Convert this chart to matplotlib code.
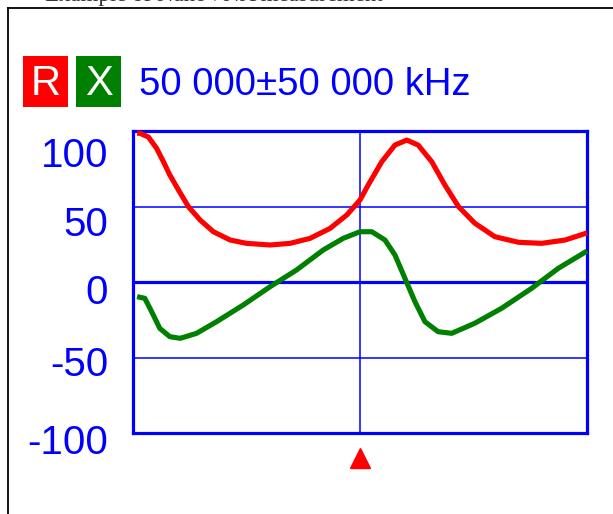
import numpy as np
import matplotlib.pyplot as plt
import matplotlib.transforms as mtransforms
from matplotlib.patches import Rectangle
from matplotlib.lines import Line2D

# data (frequency in MHz, value in ohms)
freq_r = [0.9, 1.5, 3.4, 5.2, 6.7, 8.1, 10, 12.2, 14.8, 17.7, 21.4, 25, 30.2, 34.6,
          39, 43.4, 47.1, 50, 51.8, 54.8, 57.7, 60.3, 62.8, 65.8, 68.7, 71.7,
          75.3, 79.7, 84.9, 90, 95.2, 100]
r_vals = [98.5, 98.5, 96, 88.5, 79.7, 70.9, 61, 49.9, 41, 33.3, 27.8, 25.6, 24.5, 25.6,
          28.9, 35.5, 44.4, 54.3, 64.2, 79.7, 90.7, 94, 90.7, 79.7, 64.2, 49.9,
          38.9, 30, 26.3, 25.6, 27.8, 32.5]

freq_x = [0.9, 2.6, 4.1, 5.9, 8.1, 10.4, 14, 18.4, 24.3, 30.2, 36, 41.9, 46.3, 50,
          52.6, 55.5, 57.7, 59.9, 62.1, 64.3, 67.2, 70.2, 75.3, 81.2, 87.8, 93.7, 100]
x_vals = [-9.7, -10.8, -19.6, -30.7, -36.2, -37.3, -34, -26.3, -15.2, -3.1, 7.9, 21.2, 28.9, 33.3,
          33.3, 27.8, 17.9, 2.4, -13, -26.3, -32.9, -34, -27.3, -17.4, -4.2, 9.1, 20.5]

y_ticks = [100, 50, 0, -50, -100]
y_labels = ['100', '50', '0', '-50', '-100']
marker_freq = 50
header = '50 000\u00b150 000 kHz'

BLUE = '#0000ff'
RED = '#ff0000'
GREEN = '#008000'
FONT = 'Liberation Sans'

fig = plt.figure(figsize=(6.13, 5.14), dpi=100)
W, H = 613, 514

def fx(px):
    return px / W

def fy(py):
    return 1 - py / H

# outer frame and the caption above it (cut by the top edge, as on the page)
fig.add_artist(Line2D([fx(8), 1.0], [fy(7.5), fy(7.5)], color='black', lw=1.3))
fig.add_artist(Line2D([fx(8), fx(8)], [fy(7.5), 0.0], color='black', lw=1.3))
fig.text(fx(45), fy(0.5), 'Example of NanoVNA measurement', family='Liberation Serif',
         fontsize=16.5, color='#333333', va='baseline')

# R / X badges and header
for x0, lab, col in [(23, 'R', RED), (76, 'X', GREEN)]:
    fig.add_artist(Rectangle((fx(x0), fy(107)), 45 / W, 51 / H, transform=fig.transFigure,
                             facecolor=col, edgecolor='none'))
    fig.text(fx(x0 + 22.5), fy(95), lab, color='white', fontsize=30, family=FONT,
             ha='center', va='baseline')
fig.text(fx(139), fy(95), header, color=BLUE, fontsize=27.5, family=FONT, va='baseline')

ax = fig.add_axes([fx(133), fy(433), (587 - 133) / W, (433 - 131) / H])
ax.set_xlim(0, 100)
ax.set_ylim(-100, 100)

ax.axhline(50, color=BLUE, lw=1.1, zorder=1)
ax.axhline(-50, color=BLUE, lw=1.1, zorder=1)
ax.axhline(0, color=BLUE, lw=2.3, zorder=1)
ax.axvline(50, color=BLUE, lw=1.1, zorder=1)

ax.plot(freq_r, r_vals, color=RED, lw=3.7, solid_joinstyle='round',
        solid_capstyle='butt', zorder=3, clip_on=False)
ax.plot(freq_x, x_vals, color=GREEN, lw=3.7, solid_joinstyle='round',
        solid_capstyle='butt', zorder=3, clip_on=False)

# marker triangle under the plot
trans = mtransforms.blended_transform_factory(ax.transData, ax.transAxes)
ax.plot([marker_freq], [-0.083], marker='^', color=RED, markersize=15,
        transform=trans, clip_on=False, linestyle='none')

for s in ax.spines.values():
    s.set_color(BLUE)
    s.set_linewidth(2.3)

ax.set_xticks([])
ax.set_yticks(y_ticks)
ax.set_yticklabels(y_labels, fontsize=29, family=FONT, color=BLUE)
ax.tick_params(axis='y', length=0, pad=18)

# the device draws its labels a bit below the grid lines
shifts = [21, 14, 7, 4, 6]
for lbl, d in zip(ax.get_yticklabels(), shifts):
    off = mtransforms.ScaledTranslation(0, -d / 100, fig.dpi_scale_trans)
    lbl.set_transform(lbl.get_transform() + off)

fig.savefig('out.png', dpi=100)
